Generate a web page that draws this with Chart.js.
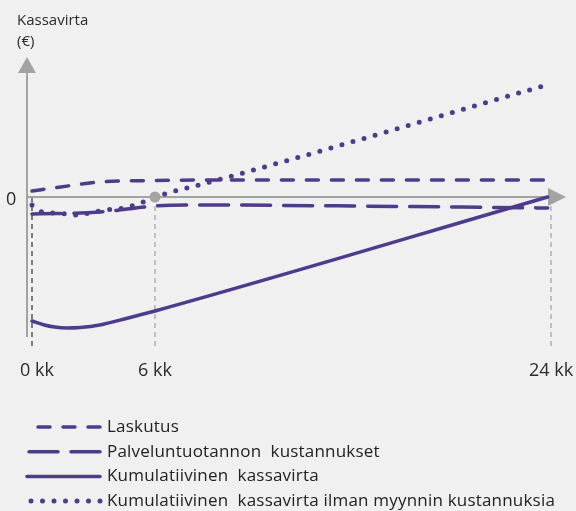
<!DOCTYPE html>
<html>
<head>
<meta charset="utf-8">
<script src="https://cdn.jsdelivr.net/npm/chart.js@4.4.1/dist/chart.umd.min.js"></script>
<style>
  html,body{margin:0;padding:0;background:#f0f0f0;}
  #wrap{width:576px;height:511px;position:relative;}
</style>
</head>
<body>
<div id="wrap"><canvas id="cashChart" width="576" height="511"></canvas></div>
<script>
/* global Chart */

// months (x) and cash flow in arbitrary units (y)
const laskutusX = [0, 1.4, 3.3, 6, 10, 16, 23.85];
const laskutusY = [0.6, 1.0, 1.5, 1.65, 1.7, 1.7, 1.7];

const kustannusX = [0, 3.3, 6, 8, 15, 23.85];
const kustannusY = [-1.7, -1.5, -0.9, -0.8, -0.9, -1.1];

const kumulX = [0, 0.6, 1.1, 1.7, 2.35, 3.3, 4.6, 6, 23.85];
const kumulY = [-12.4, -12.8, -13.0, -13.1, -13.05, -12.8, -12.15, -11.4, 0];

const ilmanX = [0, 0.5, 1, 1.7, 2.2, 2.8, 3.3, 4, 4.5, 5, 5.5, 6, 7, 8, 23.8];
const ilmanY = [-0.8, -1.5, -1.6, -1.7, -1.8, -1.6, -1.4, -1.2, -1.1, -0.8, -0.45, 0, 0.65, 1.2, 11.2];

const seriesNames = [
  'Laskutus',
  'Palveluntuotannon  kustannukset',
  'Kumulatiivinen  kassavirta',
  'Kumulatiivinen  kassavirta ilman myynnin kustannuksia'
];

const tickMonths = [0, 6, 24];
const tickLabels = ['0 kk', '6 kk', '24 kk'];
const breakEvenMonth = 6;

const PURPLE = '#4f3b8b';
const GREY = '#a3a3a3';
const FONT = '"Open Sans", sans-serif';

const toPts = (xs, ys) => xs.map((x, i) => ({ x, y: ys[i] }));

// the time axis of the picture is not to scale: 0-6 kk is squeezed
class PiecewiseScale extends Chart.LinearScale {
  getPixelForValue(value) {
    const br = this.options.breaks, fr = this.options.fractions;
    let i = 0;
    while (i < br.length - 2 && value > br[i + 1]) i++;
    const f = fr[i] + (value - br[i]) / (br[i + 1] - br[i]) * (fr[i + 1] - fr[i]);
    return this.getPixelForDecimal(f);
  }
  getValueForPixel(pixel) {
    const br = this.options.breaks, fr = this.options.fractions;
    const f = this.getDecimalForPixel(pixel);
    let i = 0;
    while (i < fr.length - 2 && f > fr[i + 1]) i++;
    return br[i] + (f - fr[i]) / (fr[i + 1] - fr[i]) * (br[i + 1] - br[i]);
  }
}
PiecewiseScale.id = 'piecewise';
PiecewiseScale.defaults = Chart.LinearScale.defaults;
Chart.register(PiecewiseScale);

// axes, arrows, guide lines, tick texts and legend
const decorPlugin = {
  id: 'decor',
  beforeDatasetsDraw(chart) {
    const { ctx, chartArea } = chart;
    const xs = chart.scales.x, ys = chart.scales.y;
    const x0 = xs.getPixelForValue(0);
    const y0 = ys.getPixelForValue(0);
    const axisX = x0 - 5;
    ctx.save();
    // guide lines
    ctx.lineWidth = 1.5;
    ctx.setLineDash([5, 4]);
    tickMonths.forEach((m, i) => {
      const px = xs.getPixelForValue(m);
      ctx.strokeStyle = i === 0 ? '#555' : '#b0b0b0';
      ctx.beginPath();
      ctx.moveTo(px, y0);
      ctx.lineTo(px, chartArea.bottom + 2);
      ctx.stroke();
    });
    ctx.setLineDash([]);
    // y axis
    ctx.strokeStyle = GREY;
    ctx.fillStyle = GREY;
    ctx.lineWidth = 2;
    ctx.beginPath();
    ctx.moveTo(axisX, chartArea.bottom - 10);
    ctx.lineTo(axisX, chartArea.top + 14);
    ctx.stroke();
    ctx.beginPath();
    ctx.moveTo(axisX, chartArea.top);
    ctx.lineTo(axisX - 9, chartArea.top + 16);
    ctx.lineTo(axisX + 9, chartArea.top + 16);
    ctx.closePath();
    ctx.fill();
    // x axis
    const xEnd = xs.getPixelForValue(24);
    ctx.beginPath();
    ctx.moveTo(axisX, y0);
    ctx.lineTo(xEnd - 2, y0);
    ctx.stroke();
    ctx.beginPath();
    ctx.moveTo(xEnd + 15, y0);
    ctx.lineTo(xEnd - 3, y0 - 9);
    ctx.lineTo(xEnd - 3, y0 + 9);
    ctx.closePath();
    ctx.fill();
    ctx.restore();
  },
  afterDatasetsDraw(chart) {
    const { ctx, chartArea } = chart;
    const xs = chart.scales.x, ys = chart.scales.y;
    const y0 = ys.getPixelForValue(0);
    ctx.save();
    // break-even dot
    ctx.fillStyle = GREY;
    ctx.beginPath();
    ctx.arc(xs.getPixelForValue(breakEvenMonth), y0, 5.5, 0, Math.PI * 2);
    ctx.fill();
    // texts
    ctx.fillStyle = '#2b2b2b';
    ctx.textBaseline = 'middle';
    ctx.font = '15px ' + FONT;
    ctx.textAlign = 'left';
    ctx.fillText('Kassavirta', 17, 21);
    ctx.fillText('(€)', 17, 42);
    ctx.font = '18px ' + FONT;
    ctx.fillText('0', 6, y0 + 3);
    ctx.textAlign = 'center';
    tickMonths.forEach((m, i) => {
      ctx.fillText(tickLabels[i], xs.getPixelForValue(m) + (i === 0 ? 5 : 0), chartArea.bottom + 24);
    });
    // legend
    ctx.textAlign = 'left';
    ctx.font = '17px ' + FONT;
    ctx.letterSpacing = '0.2px';
    chart.data.datasets.forEach((ds, i) => {
      const ly = 427 + i * 24.7;
      ctx.strokeStyle = ds.borderColor;
      ctx.lineWidth = ds.borderWidth;
      ctx.lineCap = 'round';
      ctx.setLineDash(ds.borderDash || []);
      ctx.beginPath();
      ctx.moveTo(100, ly);
      ctx.lineTo(i === 0 ? 36 : 27, ly);
      ctx.stroke();
      ctx.setLineDash([]);
      ctx.fillStyle = '#222';
      ctx.fillText(ds.label, 107, ly);
    });
    ctx.restore();
  }
};

const common = { borderColor: PURPLE, pointRadius: 0, fill: false, clip: false, cubicInterpolationMode: 'monotone', borderCapStyle: 'round' };

new Chart(document.getElementById('cashChart'), {
  type: 'line',
  data: {
    datasets: [
      { ...common, label: seriesNames[0], data: toPts(laskutusX, laskutusY), borderWidth: 3.5, borderDash: [12, 13] },
      { ...common, label: seriesNames[1], data: toPts(kustannusX, kustannusY), borderWidth: 3.5, borderDash: [29, 13] },
      { ...common, label: seriesNames[2], data: toPts(kumulX, kumulY), borderWidth: 3.5 },
      { ...common, label: seriesNames[3], data: toPts(ilmanX, ilmanY), borderWidth: 5, borderDash: [0, 11.5] }
    ]
  },
  options: {
    responsive: false,
    animation: false,
    events: [],
    layout: { padding: { left: 32, right: 25, top: 57, bottom: 164 } },
    plugins: { legend: { display: false }, tooltip: { enabled: false } },
    scales: {
      x: { type: 'piecewise', min: 0, max: 24, display: false, breaks: [0, 6, 24], fractions: [0, 0.237, 1] },
      y: { type: 'linear', min: -15, max: 14, display: false }
    }
  },
  plugins: [decorPlugin]
});
</script>
</body>
</html>
